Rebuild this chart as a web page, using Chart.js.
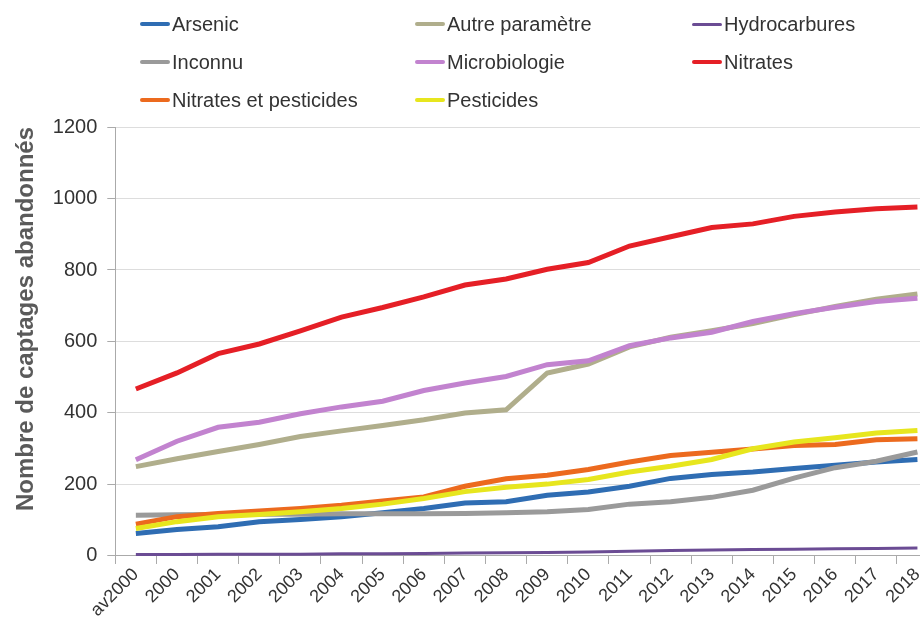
<!DOCTYPE html>
<html>
<head>
<meta charset="utf-8">
<script src="https://cdn.jsdelivr.net/npm/chart.js@4"></script>
<style>
  html, body { margin: 0; padding: 0; background: #fff; overflow: hidden; }
  #wrap { position: relative; width: 940px; height: 621px; }
  #legende { position: absolute; left: 0; top: 0; width: 920px; height: 120px;
             font-family: "Liberation Sans", Arial, sans-serif; font-size: 20px; color: #333; }
  .item { position: absolute; display: flex; align-items: center; white-space: nowrap; }
  .item span.trait { display: inline-block; width: 30px; height: 4px; border-radius: 2px; margin-right: 2px; }
</style>
</head>
<body>
<div id="wrap">
  <canvas id="graphique" width="940" height="621"></canvas>
  <div id="legende"></div>
</div>
<script>
// annees (axe x)
var annees = ['av2000', '2000', '2001', '2002', '2003', '2004', '2005', '2006', '2007', '2008',
              '2009', '2010', '2011', '2012', '2013', '2014', '2015', '2016', '2017', '2018']

// series
var arsenic       = [63, 74, 82, 96, 102, 110, 121, 133, 148, 152, 170, 179, 195, 217, 228, 235, 245, 254, 263, 270]
var autreParam    = [250, 272, 292, 312, 334, 350, 365, 381, 400, 409, 512, 537, 585, 612, 630, 650, 675, 698, 718, 733]
var hydrocarbures = [4, 4, 5, 5, 5, 6, 6, 7, 8, 9, 10, 11, 13, 15, 17, 18, 19, 20, 21, 22]
var inconnu       = [114, 115, 116, 117, 117, 118, 118, 118, 119, 121, 124, 130, 145, 152, 164, 184, 218, 247, 265, 291]
var microbio      = [269, 321, 360, 374, 398, 417, 433, 463, 484, 502, 535, 546, 588, 610, 626, 656, 678, 696, 712, 721]
var nitrates      = [467, 512, 566, 593, 630, 668, 695, 725, 758, 775, 802, 821, 867, 893, 919, 929, 950, 962, 971, 976]
var nitratesPest  = [89, 110, 119, 126, 133, 142, 154, 165, 195, 216, 226, 242, 263, 281, 290, 299, 309, 312, 325, 328]
var pesticides    = [77, 96, 110, 116, 124, 133, 145, 161, 180, 192, 201, 214, 235, 251, 270, 300, 319, 331, 344, 351]

var nomsSeries = ['Arsenic', 'Autre paramètre', 'Hydrocarbures', 'Inconnu', 'Microbiologie',
                  'Nitrates', 'Nitrates et pesticides', 'Pesticides']
var valeurs = [arsenic, autreParam, hydrocarbures, inconnu, microbio, nitrates, nitratesPest, pesticides]
var couleurs = ['#2f6db3', '#b0ae8c', '#6b4c94', '#9a9a9a', '#c283cf', '#e51f26', '#ec6a1e', '#e7e61e']

var ticksY = [0, 200, 400, 600, 800, 1000, 1200]

//legende en html (3 colonnes)
var colX = [140, 415, 692]
var rowY = [24, 62, 100]
var leg = document.getElementById('legende')
nomsSeries.forEach(function (nom, i) {
    var d = document.createElement('div')
    d.className = 'item'
    d.style.left = colX[i % 3] + 'px'
    d.style.top = (rowY[Math.floor(i / 3)] - 12) + 'px'
    d.style.height = '24px'
    var h = (i == 2) ? 3 : 4
    d.innerHTML = '<span class="trait" style="background:' + couleurs[i] + ';height:' + h + 'px"></span>' + nom
    leg.appendChild(d)
})

var datasets = valeurs.map(function (v, i) {
    return {
        label: nomsSeries[i],
        data: v,
        borderColor: couleurs[i],
        backgroundColor: couleurs[i],
        borderWidth: (i == 2) ? 3 : 5,
        pointRadius: 0,
        tension: 0,
        fill: false,
        order: nomsSeries.length - i  // la derniere serie dessinee au dessus
    }
})

const ctx = document.getElementById('graphique').getContext('2d')
const monGraphique = new Chart(ctx, {
    type: 'line',
    data: { labels: annees, datasets: datasets },
    options: {
        responsive: false,
        animation: false,
        layout: { padding: { top: 127, left: 12, right: 2, bottom: 0 } },
        plugins: { legend: { display: false }, tooltip: { enabled: false } },
        scales: {
            x: {
                offset: true,
                grid: { drawOnChartArea: false, drawTicks: true, tickLength: 8, color: '#aaa', offset: true },
                border: { color: '#aaa' },
                ticks: {
                    minRotation: 45, maxRotation: 45, autoSkip: false,
                    color: '#333', padding: 0,
                    font: { family: '"Liberation Sans", Arial, sans-serif', size: 18 }
                }
            },
            y: {
                min: 0, max: 1200,
                afterBuildTicks: function (axis) { axis.ticks = ticksY.map(function (t) { return { value: t } }) },
                grid: { color: '#ddd', tickLength: 8, tickColor: '#aaa' },
                border: { color: '#aaa' },
                ticks: {
                    color: '#333', padding: 10,
                    callback: function (v) { return String(v) },
                    font: { family: '"Liberation Sans", Arial, sans-serif', size: 20 }
                },
                title: {
                    display: true,
                    align: 'end',
                    text: 'Nombre de captages abandonnés',
                    color: '#5a5a5a',
                    padding: { top: 0, bottom: 2 },
                    font: { family: '"Liberation Sans", Arial, sans-serif', size: 24, weight: 'bold' }
                }
            }
        }
    }
})
</script>
</body>
</html>
